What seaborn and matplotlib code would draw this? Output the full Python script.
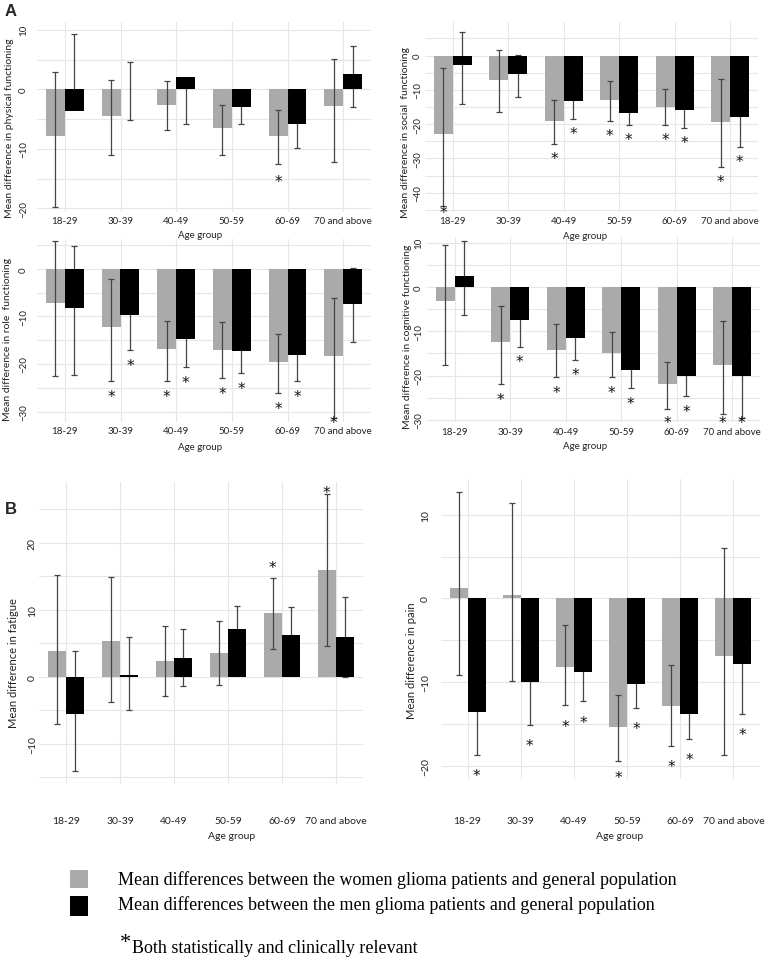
import numpy as np
import pandas as pd
import matplotlib
matplotlib.use("Agg")
import matplotlib.pyplot as plt
import seaborn as sns
from matplotlib.patches import Rectangle

sns.set_theme(style="white")
plt.rcParams['font.family'] = ['Lato', 'DejaVu Sans']

# ---------------- data ----------------
ages = ["18-29", "30-39", "40-49", "50-59", "60-69", "70 and above"]
groups = ["Women", "Men"]

phys_w = [-7.8, -4.4, -2.6, -6.5, -7.9, -2.8]
phys_w_lo = [-19.8, -11.1, -6.8, -11.0, -12.5, -12.2]
phys_w_hi = [2.9, 1.6, 1.4, -2.6, -3.4, 5.1]
phys_m = [-3.6, 0.1, 2.0, -3.0, -5.8, 2.5]
phys_m_lo = [-2.0, -5.2, -5.8, -5.8, -9.8, -2.9]
phys_m_hi = [9.3, 4.6, 1.0, -1.5, -3.0, 7.2]
phys_w_sig = [0, 0, 0, 0, 1, 0]
phys_m_sig = [0, 0, 0, 0, 0, 0]

soc_w = [-23.0, -7.0, -19.2, -12.8, -14.9, -19.3]
soc_w_lo = [-43.9, -16.3, -25.8, -19.0, -20.1, -32.4]
soc_w_hi = [-3.7, 1.6, -13.0, -7.5, -9.6, -6.8]
soc_m = [-2.7, -5.5, -13.2, -16.7, -15.9, -17.9]
soc_m_lo = [-14.0, -12.2, -18.4, -20.1, -21.1, -26.7]
soc_m_hi = [6.8, 0.3, -7.0, -9.0, -9.0, -9.0]
soc_w_sig = [1, 0, 1, 1, 1, 1]
soc_m_sig = [0, 0, 1, 1, 1, 1]

role_w = [-7.1, -12.3, -16.9, -17.0, -19.5, -18.3]
role_w_lo = [-22.5, -23.6, -23.6, -23.0, -26.0, -31.4]
role_w_hi = [5.8, -2.1, -10.9, -11.2, -13.6, -6.1]
role_m = [-8.3, -9.7, -14.8, -17.3, -18.0, -7.3]
role_m_lo = [-22.4, -17.1, -20.6, -21.9, -23.6, -15.3]
role_m_hi = [4.8, -5.0, -8.0, -9.0, -9.0, 0.3]
role_w_sig = [0, 1, 1, 1, 1, 1]
role_m_sig = [0, 1, 1, 1, 1, 0]

cog_w = [-3.2, -12.5, -14.2, -15.0, -21.9, -17.7]
cog_w_lo = [-17.6, -21.9, -20.3, -20.3, -27.5, -28.6]
cog_w_hi = [9.6, -4.4, -8.4, -10.1, -16.9, -7.7]
cog_m = [2.6, -7.5, -11.5, -18.8, -20.0, -20.0]
cog_m_lo = [-6.4, -13.5, -16.4, -22.8, -24.7, -29.5]
cog_m_hi = [10.3, -4.0, -6.0, -10.0, -10.0, -10.0]
cog_w_sig = [0, 1, 1, 1, 1, 1]
cog_m_sig = [0, 1, 1, 1, 1, 1]

fat_w = [3.9, 5.4, 2.4, 3.6, 9.5, 16.0]
fat_w_lo = [-7.0, -3.8, -2.9, -1.2, 4.1, 4.6]
fat_w_hi = [15.2, 14.9, 7.6, 8.3, 14.8, 27.3]
fat_m = [-5.5, 0.3, 2.8, 7.1, 6.3, 6.0]
fat_m_lo = [-14.1, -5.0, -1.4, 3.5, 3.0, 0.0]
fat_m_hi = [3.8, 6.0, 7.1, 10.6, 10.5, 12.0]
fat_w_sig = [0, 0, 0, 0, 1, 1]
fat_m_sig = [0, 0, 0, 0, 0, 0]

pain_w = [1.2, 0.4, -8.2, -15.4, -12.9, -6.9]
pain_w_lo = [-9.1, -9.9, -12.8, -19.5, -17.6, -18.7]
pain_w_hi = [12.8, 11.4, -3.2, -11.5, -7.9, 6.0]
pain_m = [-13.6, -10.0, -8.8, -10.2, -13.8, -7.8]
pain_m_lo = [-18.7, -15.1, -12.3, -13.1, -16.8, -13.8]
pain_m_hi = [-7.0, -5.0, -4.0, -5.0, -7.0, -4.0]
pain_w_sig = [0, 0, 1, 1, 1, 0]
pain_m_sig = [1, 1, 1, 1, 1, 1]

legend_labels = ["Mean differences between the women glioma patients and general population",
                 "Mean differences between the men glioma patients and general population"]
star_label = "Both statistically and clinically relevant"

# ---------------- style ----------------
GRAY = "#aaaaaa"
ECOL = "#444444"
GRID = "#e6e6e6"
TXT = "#222222"
W, H = 777, 962

fig = plt.figure(figsize=(W / 100, H / 100), dpi=100)
fig.patch.set_facecolor("white")


def px_axes(l, r, t, b):
    ax = fig.add_axes([l / W, 1 - b / H, (r - l) / W, (b - t) / H])
    ax.patch.set_alpha(0)
    return ax


def panel(ax, w, wlo, whi, m, mlo, mhi, wsig, msig, ylabel, ylim, yticks,
          xpad, ypad, xlabel_xy, ylabel_xy, star_gap, star_up=False, fs=7, xlabel=True):
    df = pd.DataFrame({"age": ages * 2,
                       "group": [groups[0]] * len(ages) + [groups[1]] * len(ages),
                       "value": list(w) + list(m)})
    sns.barplot(data=df, x="age", y="value", hue="group", hue_order=groups,
                palette={groups[0]: GRAY, groups[1]: "black"}, width=0.68,
                errorbar=None, legend=False, saturation=1, linewidth=0, ax=ax)
    ax.patch.set_alpha(0)
    ax.set_axisbelow(True)
    for sp in ax.spines.values():
        sp.set_visible(False)
    ax.set_yticks(yticks)
    ax.set_yticks(np.arange(yticks[0] - 5, yticks[-1] + 10, 10), minor=True)
    ax.set_ylim(*ylim)
    ax.set_xlim(-0.5, 5.5)
    ax.grid(True, which="both", axis="y", color=GRID, lw=0.8)
    ax.grid(True, which="major", axis="x", color=GRID, lw=0.8)
    ax.tick_params(axis="both", which="both", length=0, labelsize=fs, colors=TXT)
    ax.tick_params(axis="x", pad=xpad)
    ax.tick_params(axis="y", pad=ypad)
    for lab in ax.get_yticklabels():
        lab.set_rotation(90)
        lab.set_va("center")
    ax.set_ylabel(ylabel, fontsize=fs + 0.5, color=TXT)
    ax.yaxis.set_label_coords(*ylabel_xy)
    ax.yaxis.label.set_va("center")
    if xlabel:
        ax.set_xlabel("Age group", fontsize=fs, color=TXT)
        ax.xaxis.set_label_coords(*xlabel_xy)
    else:
        ax.set_xlabel("")

    rng = ylim[1] - ylim[0]
    for ci, (lo, hi, sig, z) in enumerate(
            [(wlo, whi, wsig, 3), (mlo, mhi, msig, 0.8)]):
        cont = ax.containers[ci]
        xs = [p.get_x() + p.get_width() / 2 for p in cont]
        lo = np.array(lo)
        hi = np.array(hi)
        mid = (lo + hi) / 2
        ax.errorbar(xs, mid, yerr=(hi - lo) / 2, fmt="none", ecolor=ECOL,
                    elinewidth=0.9, capsize=2.2, capthick=0.9, zorder=z)
        for x, l, h, s in zip(xs, lo, hi, sig):
            if s:
                if star_up:
                    ys = min(h + star_gap, ylim[1] - 0.02 * rng)
                else:
                    ys = max(l - star_gap, ylim[0] + 0.02 * rng)
                ax.annotate("*", xy=(x, ys), xytext=(0, -3), textcoords="offset points",
                            ha="center", va="center", fontsize=11, color="#111111",
                            family="DejaVu Sans", annotation_clip=False, zorder=5)
    ax.set_ylim(*ylim)
    ax.set_xlim(-0.5, 5.5)


ax1 = px_axes(37, 371, 23, 213)
panel(ax1, phys_w, phys_w_lo, phys_w_hi, phys_m, phys_m_lo, phys_m_hi, phys_w_sig, phys_m_sig,
      "Mean difference in physical functioning", (-20.6, 11.3), [-20, -10, 0, 10],
      3, 6.5, (0.49, -0.1), (-0.081, 0.447), 2.2, xlabel=False)

ax2 = px_axes(425, 758, 23, 213)
panel(ax2, soc_w, soc_w_lo, soc_w_hi, soc_m, soc_m_lo, soc_m_hi, soc_w_sig, soc_m_sig,
      "Mean difference in social  functioning", (-45.6, 9.8), [-40, -30, -20, -10, 0],
      3, 2.0, (0.48, -0.1), (-0.06, 0.426), 3.0)

ax3 = px_axes(37, 371, 240, 423)
panel(ax3, role_w, role_w_lo, role_w_hi, role_m, role_m_lo, role_m_hi, role_w_sig, role_m_sig,
      "Mean difference in role  functioning", (-32.2, 6.3), [-30, -20, -10, 0],
      3, 6.5, (0.488, -0.109), (-0.087, 0.454), 2.4)

ax4 = px_axes(427, 760, 238, 423)
panel(ax4, cog_w, cog_w_lo, cog_w_hi, cog_m, cog_m_lo, cog_m_hi, cog_w_sig, cog_m_sig,
      "Mean difference in cognitive functioning", (-30.5, 11.3), [-30, -20, -10, 0, 10],
      3.5, 3.0, (0.474, -0.103), (-0.06, 0.465), 2.5)

# "Age group" under the physical functioning panel
fig.text(200 / W, 1 - 235 / H, "Age group", fontsize=7, color=TXT, ha="center", va="center")

ax5 = px_axes(39, 363, 483, 785)
panel(ax5, fat_w, fat_w_lo, fat_w_hi, fat_m, fat_m_lo, fat_m_hi, fat_w_sig, fat_m_sig,
      "Mean difference in fatigue", (-16.0, 29.1), [-10, 0, 10, 20],
      23, 1.5, (0.596, -0.156), (-0.080, 0.404), 2.2, star_up=True, fs=7.5)

ax6 = px_axes(441, 760, 480, 780)
panel(ax6, pain_w, pain_w_lo, pain_w_hi, pain_m, pain_m_lo, pain_m_hi, pain_w_sig, pain_m_sig,
      "Mean difference in pain", (-21.6, 14.3), [-20, -10, 0, 10],
      26.5, 8.0, (0.561, -0.173), (-0.091, 0.397), 2.0, fs=7.5)

# panel letters
fig.text(11 / W, 1 - 12 / H, "A", fontsize=12, fontweight="bold", family="Liberation Sans",
         ha="center", va="center")
fig.text(11 / W, 1 - 509 / H, "B", fontsize=12, fontweight="bold", family="Liberation Sans",
         ha="center", va="center")

# legend
fig.patches.append(Rectangle((70 / W, 1 - 889 / H), 18 / W, 18 / H, transform=fig.transFigure,
                             facecolor=GRAY, edgecolor="none"))
fig.patches.append(Rectangle((70 / W, 1 - 917 / H), 18 / W, 20 / H, transform=fig.transFigure,
                             facecolor="black", edgecolor="none"))
fig.text(118 / W, 1 - 880 / H, legend_labels[0], family="Liberation Serif", fontsize=13,
         va="center", ha="left", color="black")
fig.text(118 / W, 1 - 905 / H, legend_labels[1], family="Liberation Serif", fontsize=13,
         va="center", ha="left", color="black")
fig.text(120 / W, 1 - 944 / H, "*", family="Liberation Serif", fontsize=16,
         va="center", ha="left", color="black")
fig.text(132 / W, 1 - 949 / H, star_label, family="Liberation Serif", fontsize=13,
         va="center", ha="left", color="black")

fig.savefig("out.png", dpi=100, facecolor="white")
